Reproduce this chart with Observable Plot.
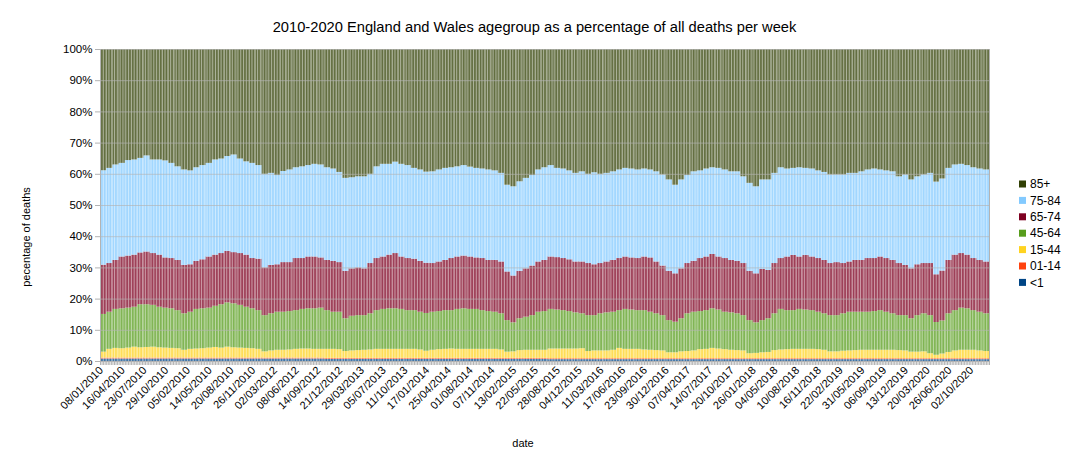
<!DOCTYPE html>
<html>
<head>
<meta charset="utf-8">
<script src="https://cdn.jsdelivr.net/npm/d3@7"></script>
<script src="https://cdn.jsdelivr.net/npm/@observablehq/plot@0.6"></script>
<style>
  html, body { margin: 0; padding: 0; background: #fff; }
  #chart { width: 1069px; height: 468px; }
</style>
</head>
<body>
<div id="chart"></div>
<script>
// ---- data: share of weekly deaths (%) by age group, one value per 4-week block starting 08/01/2010 ----
const groups = ["<1", "01-14", "15-44", "45-64", "65-74", "75-84", "85+"];
const colors = ["#004586", "#ff420e", "#ffd320", "#579d1c", "#7e0021", "#83caff", "#314004"];

const lt1 = [
  0.8,0.8,0.8,0.8,0.8,0.8,0.8,0.8,0.8,0.8,0.8,0.8,0.8,0.8,0.8,0.8,0.8,0.8,0.8,0.8,0.8,0.8,0.8,0.8,0.8,0.8,0.8,0.8,0.8,0.8,0.8,0.8,0.8,0.8,0.8,0.8,
  0.7,0.7,0.7,0.7,0.7,0.7,0.7,0.7,0.7,0.7,0.7,0.7,0.7,0.7,0.7,0.7,0.7,0.7,0.7,0.7,0.7,0.7,0.7,0.7,0.7,0.7,0.7,0.7,0.7,0.7,0.7,0.7,0.7,0.7,0.7,0.7,
  0.6,0.6,0.6,0.6,0.6,0.6,0.6,0.6,0.6,0.6,0.6,0.6,0.6,0.6,0.6,0.6,0.6,0.6,0.6,0.6,0.6,0.6,0.6,0.6,0.6,0.6,0.6,0.6,0.6,0.6,0.6,0.6,0.6,0.6,0.6,
  0.6,0.6,0.6,0.6,0.6,0.6,0.6,0.6,0.6,0.6,0.6,0.6,0.6,0.6,0.6,0.6,0.6,0.6,0.6,0.6,0.6,0.6,0.6,0.6,0.6,0.6,0.6,0.6,0.6,0.6,0.6,0.6,0.6,0.6,0.6,0.6
];
const c14 = [
  0.3,0.3,0.3,0.3,0.3,0.3,0.3,0.3,0.3,0.3,0.3,0.3,0.3,0.3,0.3,0.3,0.3,0.3,0.3,0.3,0.3,0.3,0.3,0.3,0.3,0.3,0.3,0.3,0.3,0.3,0.3,0.3,0.3,0.3,0.3,0.3,
  0.3,0.3,0.3,0.3,0.3,0.3,0.3,0.3,0.3,0.3,0.3,0.3,0.3,0.3,0.3,0.3,0.3,0.3,0.3,0.3,0.3,0.3,0.3,0.3,0.3,0.3,0.3,0.3,0.3,0.3,0.3,0.3,0.3,0.3,0.3,0.3,
  0.3,0.3,0.3,0.3,0.3,0.3,0.3,0.3,0.3,0.3,0.3,0.3,0.3,0.3,0.3,0.3,0.3,0.3,0.3,0.3,0.3,0.3,0.3,0.3,0.3,0.3,0.3,0.3,0.3,0.3,0.3,0.3,0.3,0.3,0.3,
  0.3,0.3,0.3,0.3,0.3,0.3,0.3,0.3,0.3,0.3,0.3,0.3,0.3,0.3,0.3,0.3,0.3,0.3,0.3,0.3,0.3,0.3,0.3,0.3,0.3,0.3,0.3,0.3,0.3,0.3,0.3,0.3,0.3,0.3,0.3,0.3
];
const a15 = [
  1.9,2.8,3.1,3.0,3.2,3.5,3.3,3.4,3.5,3.3,3.2,3.1,3.0,2.5,2.8,2.9,3.0,3.2,3.4,3.2,3.5,3.3,3.2,3.1,3.0,2.8,2.0,2.3,2.5,2.5,2.6,2.8,2.9,2.9,2.8,2.8,
  2.9,2.9,2.8,2.2,2.4,2.5,2.6,2.7,2.9,2.9,2.9,2.9,2.9,2.9,2.9,2.7,2.3,2.6,2.8,2.9,3.0,2.9,2.9,2.9,2.9,2.9,2.9,2.9,2.7,2.0,2.1,2.5,2.6,2.6,2.6,2.6,
  3.1,3.1,3.1,3.1,3.1,3.2,2.3,2.5,2.5,2.5,2.7,3.3,3.0,3.0,3.0,2.8,2.7,2.6,2.5,1.9,1.9,2.2,2.3,2.5,2.9,3.0,3.3,3.1,2.9,2.7,2.6,2.5,1.6,1.7,1.9,
  2.0,2.6,2.8,2.9,3.0,3.0,3.0,3.0,2.9,2.7,2.2,2.2,2.4,2.5,2.6,2.7,2.7,2.7,2.7,2.7,2.7,2.6,2.5,2.1,2.1,2.2,1.6,1.1,1.5,2.0,2.5,2.7,2.7,2.7,2.5,2.3
];
const a45 = [
  12.1,11.9,12.5,12.8,12.8,12.8,13.8,13.7,13.4,13.0,12.8,12.7,12.2,11.7,11.9,12.7,12.8,12.8,13.2,13.9,14.2,14.1,13.7,13.2,12.8,12.4,11.6,11.9,12.2,12.2,12.3,12.4,12.7,12.9,13.0,13.2,
  12.4,11.9,12.0,10.5,11.1,11.2,11.1,11.6,12.4,12.8,13.0,13.0,12.8,12.4,12.4,12.1,12.1,12.2,12.2,12.4,12.3,12.8,13.0,12.8,12.8,12.4,12.1,11.9,11.6,10.1,9.3,10.2,10.6,11.1,12.2,12.4,
  12.7,12.5,12.3,12.0,11.6,11.2,11.5,11.3,11.9,12.2,12.2,12.1,12.8,12.6,12.4,12.6,12.2,11.8,11.3,10.3,9.8,10.6,12.1,12.4,12.2,12.4,12.7,12.5,12.0,12.0,11.8,11.3,10.6,9.8,10.3,
  10.8,11.8,13.0,12.5,12.4,12.8,12.6,12.4,12.0,11.7,11.6,11.6,12.0,12.4,12.3,12.2,12.2,12.4,12.7,12.2,11.7,11.2,11.3,10.7,11.7,12.2,12.2,10.5,10.6,12.4,12.9,13.5,13.3,12.7,12.4,12.1
];
const a65 = [
  15.8,15.6,15.7,16.6,16.7,16.7,16.6,16.9,16.6,16.7,16.1,16.1,16.1,15.5,15.2,15.4,15.7,16.4,16.4,16.4,16.5,16.4,16.6,16.7,16.1,16.5,15.3,15.5,15.2,15.9,15.7,16.7,16.3,16.6,16.6,16.1,
  16.1,16.3,15.9,15.2,15.2,15.3,15.0,16.1,16.7,16.8,17.2,17.7,16.8,16.7,16.5,16.3,16.1,15.6,15.9,16.1,16.7,16.8,16.9,16.8,16.5,16.7,16.4,16.6,16.6,15.6,15.0,15.2,15.5,15.9,16.1,16.4,
  16.8,16.8,16.7,16.6,16.3,16.6,16.7,16.3,16.1,16.3,16.6,16.7,16.8,16.7,16.7,17.2,17.4,16.6,15.9,15.8,15.5,16.0,16.1,16.3,17.0,17.2,17.4,17.0,17.2,16.8,16.8,16.7,15.8,15.7,16.4,
  15.5,16.1,16.3,17.2,17.7,16.8,17.5,17.2,17.2,17.1,16.7,17.0,16.1,16.1,16.6,16.6,17.2,17.0,17.2,17.2,17.1,16.7,16.1,16.0,16.3,16.1,16.7,15.3,16.0,17.1,17.8,17.5,17.2,16.7,16.6,16.6
];
const a75 = [
  30.3,30.5,30.6,30.0,30.6,30.5,30.3,30.8,30.0,30.5,31.1,30.5,30.0,30.6,30.1,30.0,30.2,30.0,30.5,30.3,30.4,31.3,30.3,29.9,30.5,30.0,30.0,29.5,28.6,29.2,29.7,29.1,29.4,29.3,29.7,29.8,
  29.7,29.6,28.9,29.8,29.2,29.2,29.5,28.6,29.4,29.7,29.1,29.3,29.7,29.8,29.1,29.3,29.2,29.4,29.5,29.5,29.1,28.9,29.0,28.8,28.7,28.7,29.0,28.7,28.4,27.8,28.6,28.7,29.0,29.0,29.5,29.7,
  29.3,28.6,28.7,28.5,28.4,28.9,28.6,29.5,28.6,28.4,28.4,28.4,28.4,28.5,28.4,28.2,28.2,28.9,29.2,29.3,28.4,28.5,28.2,28.7,28.1,28.2,27.8,28.4,28.4,28.4,28.7,27.8,28.2,27.9,28.7,
  29.0,28.9,29.1,28.2,27.9,28.6,27.9,28.2,28.1,28.2,28.4,28.1,28.4,28.4,27.9,28.4,28.4,28.7,27.9,28.1,28.4,27.8,29.0,28.5,28.2,28.4,28.9,29.7,29.5,29.5,28.9,28.6,28.7,29.1,29.3,29.5
];
const a85 = [
  38.9,38.1,37.0,36.5,35.6,35.4,34.9,34.1,35.4,35.4,35.7,36.5,37.6,38.6,38.9,37.9,37.2,36.5,35.4,35.1,34.3,33.8,35.1,36.0,36.5,37.2,40.0,39.7,40.4,39.1,38.6,37.9,37.6,37.2,36.8,37.0,
  37.9,38.3,39.4,41.3,41.1,40.8,40.8,40.0,37.6,36.8,36.8,36.1,36.8,37.2,38.1,38.6,39.3,39.2,38.6,38.1,37.9,37.6,37.2,37.7,38.1,38.3,38.6,38.9,39.7,43.5,44.0,42.4,41.3,40.4,38.6,37.9,
  37.2,38.1,38.3,38.9,39.7,39.2,40.0,39.5,40.0,39.7,39.2,38.6,38.1,38.3,38.6,38.3,38.6,39.2,40.2,41.8,43.5,41.8,40.4,39.2,38.9,38.3,37.9,38.1,38.6,39.2,39.2,40.8,42.9,44.0,41.8,
  41.8,39.7,37.9,38.3,38.1,37.9,38.1,38.3,38.9,39.4,40.2,40.2,40.2,39.7,39.7,39.2,38.6,38.3,38.6,38.9,39.2,40.8,40.2,41.8,40.8,40.2,39.7,42.5,41.5,38.1,37.0,36.8,37.2,37.9,38.3,38.6
];

// x axis tick labels (every 14th week, as printed on the original chart)
const tickLabels = [
  "08/01/2010","16/04/2010","23/07/2010","29/10/2010","05/02/2010","14/05/2010","20/08/2010","26/11/2010",
  "02/03/2012","08/06/2012","14/09/2012","21/12/2012","29/03/2013","05/07/2013","11/10/2013","17/01/2014",
  "25/04/2014","01/08/2014","07/11/2014","13/02/2015","22/05/2015","28/08/2015","04/12/2015","11/03/2016",
  "17/06/2016","23/09/2016","30/12/2016","07/04/2017","14/07/2017","20/10/2017","26/01/2018","04/05/2018",
  "10/08/2018","16/11/2018","22/02/2019","31/05/2019","06/09/2019","13/12/2019","20/03/2020","26/06/2020",
  "02/10/2020"
];
const yTicks = [0, 0.1, 0.2, 0.3, 0.4, 0.5, 0.6, 0.7, 0.8, 0.9, 1];

const titleText = "2010-2020 England and Wales agegroup as a percentage of all deaths per week";
const yTitle = "pecentage of deaths";
const xTitle = "date";

// ---- build ----
const nWeeks = 572;
const blockWeeks = d3.range(0, nWeeks, 4);
const series = [lt1, c14, a15, a45, a65, a75, a85];
const rows = blockWeeks.flatMap((w, i) =>
  groups.map((g, k) => ({w, w2: w + 4, g, v: series[k][i]})));
const weekBounds = d3.range(0, nWeeks + 1);
const labelPos = tickLabels.map((_, i) => i * 14 + 0.5);
const labelMap = new Map(labelPos.map((p, i) => [p, tickLabels[i]]));

const chart = Plot.plot({
  width: 1069,
  height: 468,
  marginLeft: 100,
  marginRight: 80,
  marginTop: 49,
  marginBottom: 107,
  style: {fontFamily: "'Liberation Sans', Arial, sans-serif", color: "#000", background: "#fff"},
  x: {domain: [0, nWeeks]},
  y: {domain: [0, 1]},
  color: {domain: groups, range: colors},
  marks: [
    Plot.rectY(rows, {x1: "w", x2: "w2", y: "v", fill: "g", order: groups, offset: "normalize"}),
    Plot.ruleX(weekBounds, {x: d => d, y1: 0, y2: 1, stroke: "#fff", strokeWidth: 0.6, shapeRendering: "geometricPrecision"}),
    Plot.ruleY(yTicks, {stroke: "#b3b3b3", strokeOpacity: 0.65}),
    Plot.ruleX([0, nWeeks], {stroke: "#b3b3b3"}),
    Plot.ruleY([0], {stroke: "#b3b3b3"}),
    Plot.axisY({ticks: yTicks, tickFormat: d => Math.round(d * 100) + "%", tickSize: 5, tickPadding: 3,
      stroke: "#b3b3b3", fill: "#000", fontSize: 11.5, label: null}),
    Plot.axisX({ticks: weekBounds, tickSize: 4, tickFormat: () => "", stroke: "#b3b3b3", label: null}),
    Plot.axisX({ticks: labelPos, tickSize: 0, tickPadding: 7, tickRotate: -45,
      tickFormat: d => labelMap.get(d), fill: "#000", fontSize: 11, label: null})
  ]
});
document.getElementById("chart").appendChild(chart);

// titles and legend
const svg = d3.select(chart);
svg.append("text").attr("x", 534.5).attr("y", 32).attr("text-anchor", "middle")
  .style("font-size", "14.7px").attr("fill", "#000").text(titleText);
svg.append("text").attr("transform", "translate(30,237) rotate(-90)").attr("text-anchor", "middle")
  .style("font-size", "11px").attr("fill", "#000").text(yTitle);
svg.append("text").attr("x", 523).attr("y", 447).attr("text-anchor", "middle")
  .style("font-size", "11px").attr("fill", "#000").text(xTitle);

const legendOrder = groups.slice().reverse();
const lg = svg.append("g").attr("text-anchor", "start");
legendOrder.forEach((g, i) => {
  const cy = 184 + i * 16.4;
  lg.append("rect").attr("x", 1019).attr("y", cy - 3.5).attr("width", 7).attr("height", 7)
    .attr("fill", colors[groups.indexOf(g)]);
  lg.append("text").attr("x", 1030).attr("y", cy).attr("dy", "0.35em").attr("text-anchor", "start")
    .style("font-size", "12px").attr("fill", "#000").text(g);
});
</script>
</body>
</html>
